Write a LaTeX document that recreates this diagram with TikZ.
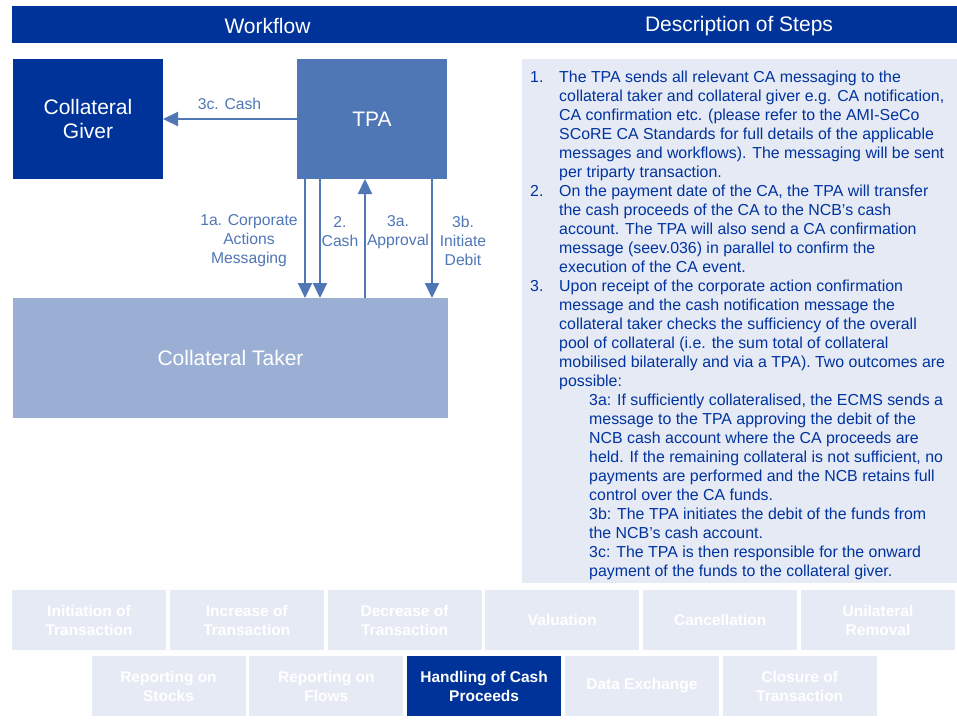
\documentclass[tikz,border=0pt]{standalone}
\usepackage{fontspec}
\setmainfont{Liberation Sans}
\usetikzlibrary{arrows.meta}
\definecolor{hdr}{RGB}{0,51,153}
\definecolor{tpa}{RGB}{79,118,181}
\definecolor{taker}{RGB}{155,175,213}
\definecolor{pale}{RGB}{230,234,244}
\definecolor{txt}{RGB}{0,51,160}
\begin{document}
\begin{tikzpicture}[x=1pt,y=-1pt,
  blk/.style={inner sep=0pt, outer sep=0pt, anchor=north west, align=center, text=white,
    font=\fontsize{21}{24}\selectfont},
  hdrtxt/.style={text=white, inner sep=0pt, font=\fontsize{21}{24}\selectfont},
  arr/.style={draw=tpa, line width=2.2pt, -{Triangle[width=14pt,length=15pt]}},
  lbl/.style={text=tpa, align=center, inner sep=0pt, font=\fontsize{15.7}{19}\selectfont},
  desc/.style={text=txt, inner sep=0pt, anchor=base west, font=\fontsize{15.9}{19}\selectfont},
  btn/.style={fill=pale, inner sep=0pt, outer sep=0pt, anchor=north west, minimum width=154pt,
    minimum height=60pt, align=center, text=white, font=\fontsize{15.5}{19}\selectfont\bfseries},
  btnon/.style={btn, fill=hdr}]
\useasboundingbox (0,0) rectangle (957,725);
% header
\node[fill=hdr, inner sep=0pt, outer sep=0pt, anchor=north west, minimum width=945pt, minimum height=37pt] (hdrbar) at (12,6) {};
\node[hdrtxt] (wf) at (267.5,26) {Workflow};
\node[hdrtxt] (ds) at (739,26) {Description of Steps};
% workflow boxes
\node[blk, fill=hdr, minimum width=150pt, minimum height=120pt] (CG) at (13,59) {Collateral\\Giver};
\node[blk, fill=tpa, minimum width=150pt, minimum height=120pt] (TPA) at (297,59) {TPA};
\node[blk, fill=taker, minimum width=435pt, minimum height=120pt] (CT) at (13,298) {Collateral Taker};
% arrows
\draw[arr] (TPA.west) -- (CG.east);
\draw[arr] ([xshift=8pt]TPA.south west) -- ([xshift=8pt]TPA.south west |- CT.north);
\draw[arr] ([xshift=23pt]TPA.south west) -- ([xshift=23pt]TPA.south west |- CT.north);
\draw[arr] ([xshift=68pt]TPA.south west |- CT.north) -- ([xshift=68pt]TPA.south west);
\draw[arr] ([xshift=135pt]TPA.south west) -- ([xshift=135pt]TPA.south west |- CT.north);
% arrow labels
\node[lbl] (l3c) at (229.5,104) {3c. Cash};
\node[lbl] (l1a) at (249,241) {1a. Corporate\\Actions\\Messaging};
\node[lbl] (l2) at (340,232) {2.\\Cash};
\node[lbl] (l3a) at (398,232) {3a.\\Approval};
\node[lbl] (l3b) at (463,241) {3b.\\Initiate\\Debit};
% description box
\node[fill=pale, inner sep=0pt, outer sep=0pt, anchor=north west, minimum width=435pt, minimum height=524pt] (DB) at (522,59) {};
\node[desc] (n1) at (530,82) {1.};
\node[desc] (n2) at (530,196) {2.};
\node[desc] (n3) at (530,291) {3.};
\foreach \t [count=\i from 0] in {
  {The TPA sends all relevant CA messaging to the},
  {collateral taker and collateral giver e.g. CA notification,},
  {CA confirmation etc. (please refer to the AMI-SeCo},
  {SCoRE CA Standards for full details of the applicable},
  {messages and workflows). The messaging will be sent},
  {per triparty transaction.},
  {On the payment date of the CA, the TPA will transfer},
  {the cash proceeds of the CA to the NCB’s cash},
  {account. The TPA will also send a CA confirmation},
  {message (seev.036) in parallel to confirm the},
  {execution of the CA event.},
  {Upon receipt of the corporate action confirmation},
  {message and the cash notification message the},
  {collateral taker checks the sufficiency of the overall},
  {pool of collateral (i.e. the sum total of collateral},
  {mobilised bilaterally and via a TPA). Two outcomes are},
  {possible:}}
  \node[desc] (dl\i) at (559,82+19*\i) {\t};
\foreach \t [count=\i from 17] in {
  {3a: If sufficiently collateralised, the ECMS sends a},
  {message to the TPA approving the debit of the},
  {NCB cash account where the CA proceeds are},
  {held. If the remaining collateral is not sufficient, no},
  {payments are performed and the NCB retains full},
  {control over the CA funds.},
  {3b: The TPA initiates the debit of the funds from},
  {the NCB’s cash account.},
  {3c: The TPA is then responsible for the onward},
  {payment of the funds to the collateral giver.}}
  \node[desc] (dl\i) at (589,82+19*\i) {\t};
% buttons
\node[btn] (b1) at (12,590) {Initiation of\\Transaction};
\node[btn] (b2) at (169.8,590) {Increase of\\Transaction};
\node[btn] (b3) at (327.6,590) {Decrease of\\Transaction};
\node[btn] (b4) at (485.4,590) {Valuation};
\node[btn] (b5) at (643.2,590) {Cancellation};
\node[btn] (b6) at (801,590) {Unilateral\\Removal};
\node[btn] (b7) at (91.5,656) {Reporting on\\Stocks};
\node[btn] (b8) at (249.3,656) {Reporting on\\Flows};
\node[btnon] (b9) at (407.1,656) {Handling of Cash\\Proceeds};
\node[btn] (b10) at (564.9,656) {Data Exchange};
\node[btn] (b11) at (722.7,656) {Closure of\\Transaction};
\end{tikzpicture}
\end{document}
